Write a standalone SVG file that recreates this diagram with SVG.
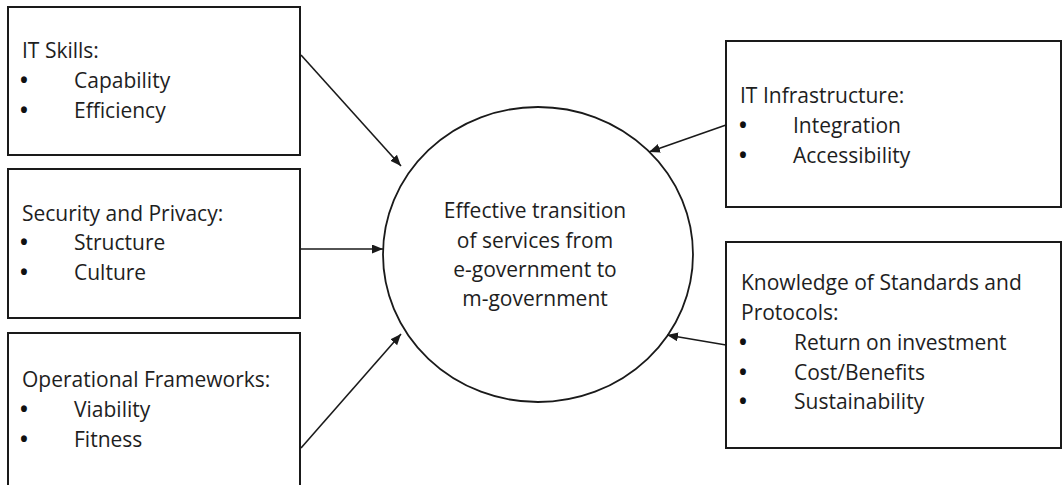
<svg xmlns="http://www.w3.org/2000/svg" width="1062" height="485" viewBox="0 0 1062 485">
<style>
.box{fill:#fff;stroke:#1a1a1a;stroke-width:2}
.circ{fill:#fff;stroke:#1a1a1a;stroke-width:1.8}
.t{font-family:"Open Sans","Liberation Sans",sans-serif;font-size:21px;fill:#1e1e1e}
.b{font-weight:bold;fill:#111}
.c{text-anchor:middle}
.conn{stroke:#1a1a1a;stroke-width:1.6;fill:none;marker-end:url(#ah)}
</style>
<defs>
<marker id="ah" markerUnits="userSpaceOnUse" markerWidth="12" markerHeight="10" refX="11" refY="4.5" orient="auto">
<path d="M0,0 L11,4.5 L0,9 Z" fill="#1a1a1a"/>
</marker>
</defs>
<rect width="1062" height="485" fill="#fff"/>
<g id="node-it-skills">
<rect class="box" x="8" y="7" width="292" height="148"/>
<text class="t" x="22" y="58">IT Skills:</text>
<text class="t" x="20" y="88"><tspan class="b">•</tspan><tspan x="74">Capability</tspan></text>
<text class="t" x="20" y="118"><tspan class="b">•</tspan><tspan x="74">Efficiency</tspan></text>
</g>
<g id="node-security">
<rect class="box" x="8" y="169" width="292" height="149"/>
<text class="t" x="22" y="221">Security and Privacy:</text>
<text class="t" x="20" y="250"><tspan class="b">•</tspan><tspan x="74">Structure</tspan></text>
<text class="t" x="20" y="280"><tspan class="b">•</tspan><tspan x="74">Culture</tspan></text>
</g>
<g id="node-operational">
<rect class="box" x="8" y="333" width="292" height="160"/>
<text class="t" x="22" y="387">Operational Frameworks:</text>
<text class="t" x="20" y="417"><tspan class="b">•</tspan><tspan x="74">Viability</tspan></text>
<text class="t" x="20" y="447"><tspan class="b">•</tspan><tspan x="74">Fitness</tspan></text>
</g>
<g id="node-center">
<ellipse class="circ" cx="538" cy="254.5" rx="155" ry="147.5"/>
<text class="t c" x="535" y="218">Effective transition</text>
<text class="t c" x="535" y="248">of services from</text>
<text class="t c" x="535" y="277">e-government to</text>
<text class="t c" x="535" y="306">m-government</text>
</g>
<g id="node-it-infrastructure">
<rect class="box" x="726" y="41" width="335" height="166"/>
<text class="t" x="740" y="103">IT Infrastructure:</text>
<text class="t" x="739" y="133"><tspan class="b">•</tspan><tspan x="793">Integration</tspan></text>
<text class="t" x="739" y="163"><tspan class="b">•</tspan><tspan x="793">Accessibility</tspan></text>
</g>
<g id="node-knowledge">
<rect class="box" x="726" y="242" width="335" height="206"/>
<text class="t" x="741" y="290">Knowledge of Standards and</text>
<text class="t" x="741" y="320">Protocols:</text>
<text class="t" x="739" y="350"><tspan class="b">•</tspan><tspan x="794">Return on investment</tspan></text>
<text class="t" x="739" y="380"><tspan class="b">•</tspan><tspan x="794">Cost/Benefits</tspan></text>
<text class="t" x="739" y="409"><tspan class="b">•</tspan><tspan x="794">Sustainability</tspan></text>
</g>
<g id="connectors">
<line class="conn" x1="301" y1="55" x2="401" y2="166"/>
<line class="conn" x1="301" y1="249" x2="383" y2="249"/>
<line class="conn" x1="301" y1="448" x2="401" y2="334"/>
<line class="conn" x1="726" y1="125" x2="649" y2="152"/>
<line class="conn" x1="726" y1="345" x2="667" y2="335"/>
</g>
</svg>
